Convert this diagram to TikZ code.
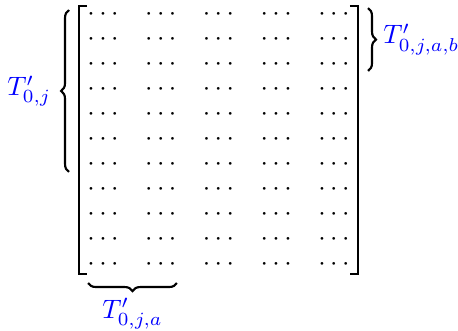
\documentclass[tikz,border=0pt]{standalone}
\usepackage{amsmath}
\usepackage{xcolor}
\usetikzlibrary{matrix,positioning,decorations.pathreplacing}

\begin{document}
\begin{tikzpicture}[every node/.style={font=\normalsize}, brak/.style={thick}, brc/.style={thick, decorate, decoration={brace, amplitude=3pt}}, lbl/.style={text=blue}]
      \useasboundingbox (0,0) rectangle (6.046,-4.369);
      \matrix (m) [matrix of math nodes, inner sep=0pt, row sep=0.131cm, column sep=0.262cm, nodes={minimum width=0.5cm, minimum height=0.2cm, inner sep=0pt}] at (2.884,-1.841) {
        \cdots & \cdots & \cdots & \cdots & \cdots \\
        \cdots & \cdots & \cdots & \cdots & \cdots \\
        \cdots & \cdots & \cdots & \cdots & \cdots \\
        \cdots & \cdots & \cdots & \cdots & \cdots \\
        \cdots & \cdots & \cdots & \cdots & \cdots \\
        \cdots & \cdots & \cdots & \cdots & \cdots \\
        \cdots & \cdots & \cdots & \cdots & \cdots \\
        \cdots & \cdots & \cdots & \cdots & \cdots \\
        \cdots & \cdots & \cdots & \cdots & \cdots \\
        \cdots & \cdots & \cdots & \cdots & \cdots \\
        \cdots & \cdots & \cdots & \cdots & \cdots \\
      };
      \draw[brak] (1.149,-0.079) -- (1.043,-0.079) -- (1.043,-3.617) -- (1.149,-3.617);
      \draw[brak] (4.620,-0.079) -- (4.726,-0.079) -- (4.726,-3.617) -- (4.620,-3.617);
      \coordinate (lb1) at (0.911,-2.270);
      \coordinate (lb2) at (0.911,-0.132);
      \coordinate (rb1) at (4.858,-0.106);
      \coordinate (rb2) at (4.858,-0.937);
      \coordinate (bb1) at (2.336,-3.736);
      \coordinate (bb2) at (1.162,-3.736);
      \draw[brc] (lb1) -- (lb2) node[midway, left=3pt, lbl] (tj) {$T'_{0,j}$};
      \draw[brc] (rb1) -- (rb2) node[midway, right=2pt, lbl] (tjab) {$T'_{0,j,a,b}$};
      \draw[brc] (bb1) -- (bb2) node[midway, below=2pt, lbl] (tja) {$T'_{0,j,a}$};
    \end{tikzpicture}
\end{document}
